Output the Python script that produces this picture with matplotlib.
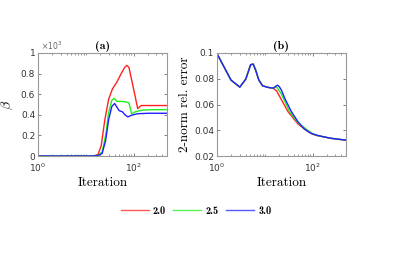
import matplotlib
matplotlib.use("Agg")
import matplotlib.pyplot as plt
from matplotlib.ticker import FuncFormatter, LogLocator, NullFormatter, FixedLocator
from matplotlib.lines import Line2D

# ---- data ----
labels = ["2.0", "2.5", "3.0"]
colors = ["#ff2020", "#20ee20", "#2020ff"]

# panel (a): beta vs iteration
a_it_20 = [1, 10, 15, 18, 21, 25, 30, 36, 45, 55, 65, 72, 80, 100, 122, 144, 200, 500]
a_b_20 = [0, 0, 2, 15, 100, 350, 550, 650, 720, 800, 860, 880, 860, 650, 460, 490, 490, 490]
a_it_25 = [1, 12, 18, 22, 26, 30, 35, 39, 45, 55, 70, 80, 91, 110, 150, 250, 500]
a_b_25 = [0, 0, 5, 40, 200, 420, 540, 560, 530, 530, 525, 515, 410, 430, 445, 450, 450]
a_it_30 = [1, 12, 18, 22, 26, 30, 35, 40, 44, 50, 58, 66, 76, 90, 120, 200, 500]
a_b_30 = [0, 0, 3, 25, 150, 350, 480, 510, 480, 440, 430, 400, 380, 395, 410, 415, 415]

# panel (b): 2-norm relative error vs iteration
b_it_com = [1, 1.96, 3.0, 4.0, 5.05, 5.7, 6.4, 7.5, 9, 12, 15]
b_e_com = [0.0995, 0.079, 0.0735, 0.0797, 0.0909, 0.0914, 0.087, 0.079, 0.0745, 0.0732, 0.0727]
b_it_20 = [17.7, 22.4, 30.5, 49, 80, 100, 126, 236, 500]
b_e_20 = [0.0705, 0.0636, 0.0545, 0.045, 0.039, 0.0369, 0.0358, 0.0338, 0.0323]
b_it_25 = [17.5, 22, 27, 33, 49, 80, 100, 126, 236, 500]
b_e_25 = [0.0738, 0.0685, 0.0615, 0.0545, 0.0459, 0.0398, 0.0372, 0.0359, 0.0338, 0.0323]
b_it_30 = [18.3, 20, 22.4, 26, 36, 49, 67, 92, 126, 236, 500]
b_e_30 = [0.0750, 0.0740, 0.0710, 0.0650, 0.0545, 0.0468, 0.0410, 0.0377, 0.0360, 0.0338, 0.0323]

x_major = [1, 100]

plt.rcParams['mathtext.fontset'] = 'cm'
plt.rcParams['font.family'] = ['DejaVu Sans']

W, H = 407, 271
fig = plt.figure(figsize=(W / 100, H / 100), dpi=100)

ax1 = fig.add_axes([38 / W, 1 - 156 / H, 129 / W, 103 / H])
ax2 = fig.add_axes([217 / W, 1 - 156 / H, 129 / W, 103 / H])

lw = 1.0
ax1.plot(a_it_20, a_b_20, color=colors[0], lw=lw)
ax1.plot(a_it_25, a_b_25, color=colors[1], lw=lw)
ax1.plot(a_it_30, a_b_30, color=colors[2], lw=lw)

ax2.plot(b_it_com + b_it_20, b_e_com + b_e_20, color=colors[0], lw=lw)
ax2.plot(b_it_com + b_it_25, b_e_com + b_e_25, color=colors[1], lw=lw)
ax2.plot(b_it_com + b_it_30, b_e_com + b_e_30, color=colors[2], lw=lw)

serif = 'cmr10'
tick_fs = 6.5
for ax in (ax1, ax2):
    ax.set_xscale('log')
    ax.set_xlim(1, 500)
    ax.xaxis.set_major_locator(FixedLocator(x_major))
    ax.xaxis.set_minor_locator(LogLocator(base=10, subs=[1, 2, 3, 4, 5, 6, 7, 8, 9], numticks=20))
    ax.xaxis.set_minor_formatter(NullFormatter())
    ax.tick_params(which='both', direction='in', top=True, right=True,
                   labelsize=tick_fs, color='0.3', labelcolor='0.2')
    ax.tick_params(axis='x', pad=4)
    ax.tick_params(axis='y', pad=2)
    ax.tick_params(which='major', length=2.5, width=0.5)
    ax.tick_params(which='minor', length=1.5, width=0.4)
    for s in ax.spines.values():
        s.set_color('0.6')
        s.set_linewidth(0.8)
    ax.set_xlabel('Iteration', fontsize=9.5, family=serif, labelpad=2)

ax1.set_ylim(0, 1000)
ax1.set_yticks([0, 200, 400, 600, 800, 1000])
ax1.yaxis.set_major_formatter(FuncFormatter(lambda v, p: '%g' % (v / 1000)))
ax1.text(0.02, 1.01, r'$\mathdefault{\times10^{3}}$', transform=ax1.transAxes, fontsize=5.5,
         ha='left', va='bottom', color='0.4')
ax1.set_ylabel(r'$\beta$', fontsize=10, labelpad=4)
ax1.set_title('(a)', fontsize=8.5, family='cmb10', pad=3)

ax2.set_ylim(0.02, 0.1)
ax2.set_yticks([0.02, 0.04, 0.06, 0.08, 0.1])
ax2.yaxis.set_major_formatter(FuncFormatter(lambda v, p: '%g' % round(v, 3)))
ax2.set_ylabel('2-norm rel. error', fontsize=9.5, family=serif, labelpad=2)
ax2.set_title('(b)', fontsize=8.5, family='cmb10', pad=3)

handles = [Line2D([], [], color=c, lw=lw, alpha=0.75) for c in colors]
fig.legend(handles, labels, loc='center', bbox_to_anchor=(196 / W, 1 - 211 / H),
           ncol=3, frameon=False, handlelength=2.7, handletextpad=0.4,
           columnspacing=0.7, prop={'family': 'cmb10', 'size': 7.5})

fig.savefig('out.png', dpi=100)
